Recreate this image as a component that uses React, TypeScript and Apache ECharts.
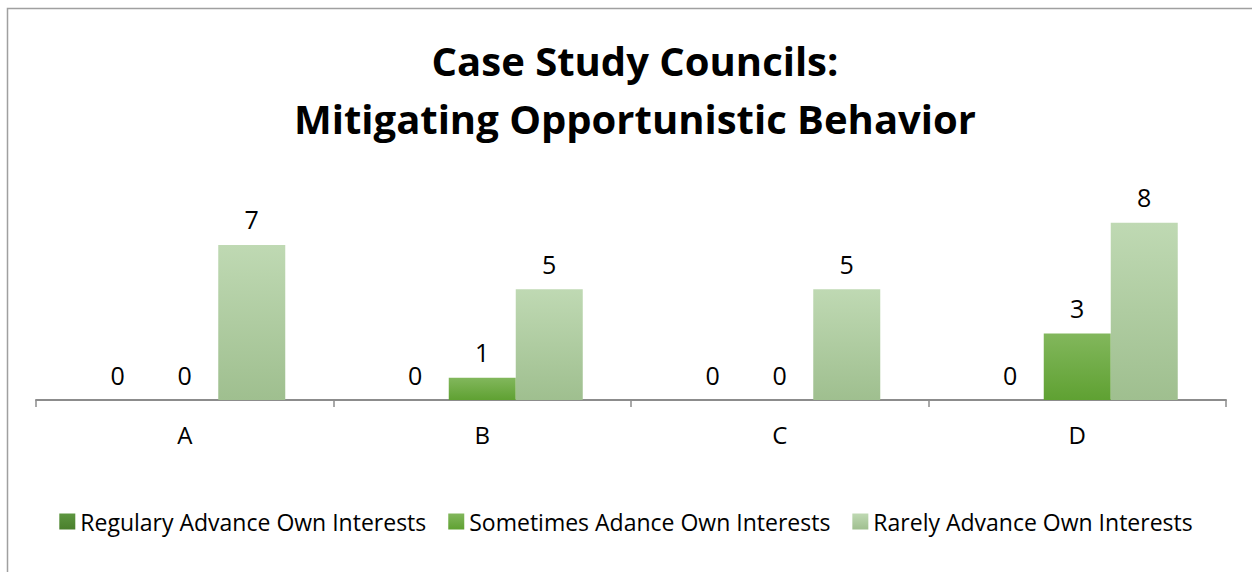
import React, { useEffect, useRef } from "react";
import * as echarts from "echarts";

const categories = ["A", "B", "C", "D"];
const regularly = [0, 0, 0, 0];
const sometimes = [0, 1, 0, 3];
const rarely = [7, 5, 5, 8];
const seriesNames = [
  "Regulary Advance Own Interests",
  "Sometimes Adance Own Interests",
  "Rarely Advance Own Interests",
];
const titleLines = ["Case Study Councils:", "Mitigating Opportunistic Behavior"];

const grad = (top: string, bottom: string) =>
  new echarts.graphic.LinearGradient(0, 0, 0, 1, [
    { offset: 0, color: top },
    { offset: 1, color: bottom },
  ]);

export default function App() {
  const ref = useRef<HTMLDivElement>(null);
  useEffect(() => {
    document.body.style.margin = "0";
    const chart = echarts.init(ref.current!, null, { renderer: "svg" });
    const font = "Open Sans";
    const label = {
      show: true,
      position: "top" as const,
      distance: 13,
      fontFamily: font,
      fontSize: 25,
      color: "#000",
    };
    const mk = (name: string, data: number[], top: string, bottom: string) => ({
      name,
      type: "bar" as const,
      data,
      barWidth: 67,
      barGap: "0%",
      itemStyle: { color: grad(top, bottom) },
      label,
    });
    chart.setOption({
      animation: false,
      title: {
        text: titleLines.join("\n"),
        left: 630,
        textAlign: "center",
        top: 26,
        textStyle: {
          fontFamily: font,
          fontWeight: "bold",
          fontSize: 40,
          lineHeight: 58,
          color: "#000",
        },
      },
      graphic: [
        {
          type: "rect",
          shape: { x: 7.5, y: 8.5, width: 1300, height: 700 },
          style: { fill: "none", stroke: "#a0a0a0", lineWidth: 1.5 },
          silent: true,
        },
      ],
      legend: {
        bottom: 34,
        left: "center",
        itemWidth: 16,
        itemHeight: 16,
        itemGap: 22,
        icon: "rect",
        textStyle: { fontFamily: font, fontSize: 23, color: "#000" },
        data: seriesNames,
      },
      grid: { left: 36, right: 26, top: 200.7, height: 199.3 },
      xAxis: {
        type: "category",
        data: categories,
        axisLine: { lineStyle: { color: "#8c8c8c", width: 2 } },
        axisTick: { show: true, length: 7, lineStyle: { color: "#8c8c8c", width: 1.5 } },
        axisLabel: { fontFamily: font, fontSize: 24, color: "#000", margin: 22 },
      },
      yAxis: {
        type: "value",
        min: 0,
        max: 9,
        show: false,
        splitLine: { show: false },
      },
      series: [
        mk(seriesNames[0], regularly, "#5d9640", "#4a7f2c"),
        mk(seriesNames[1], sometimes, "#82b75c", "#5fa132"),
        mk(seriesNames[2], rarely, "#bfd9b3", "#9fbf8f"),
      ],
    });
    return () => chart.dispose();
  }, []);
  return <div ref={ref} style={{ width: 1252, height: 572 }} />;
}
